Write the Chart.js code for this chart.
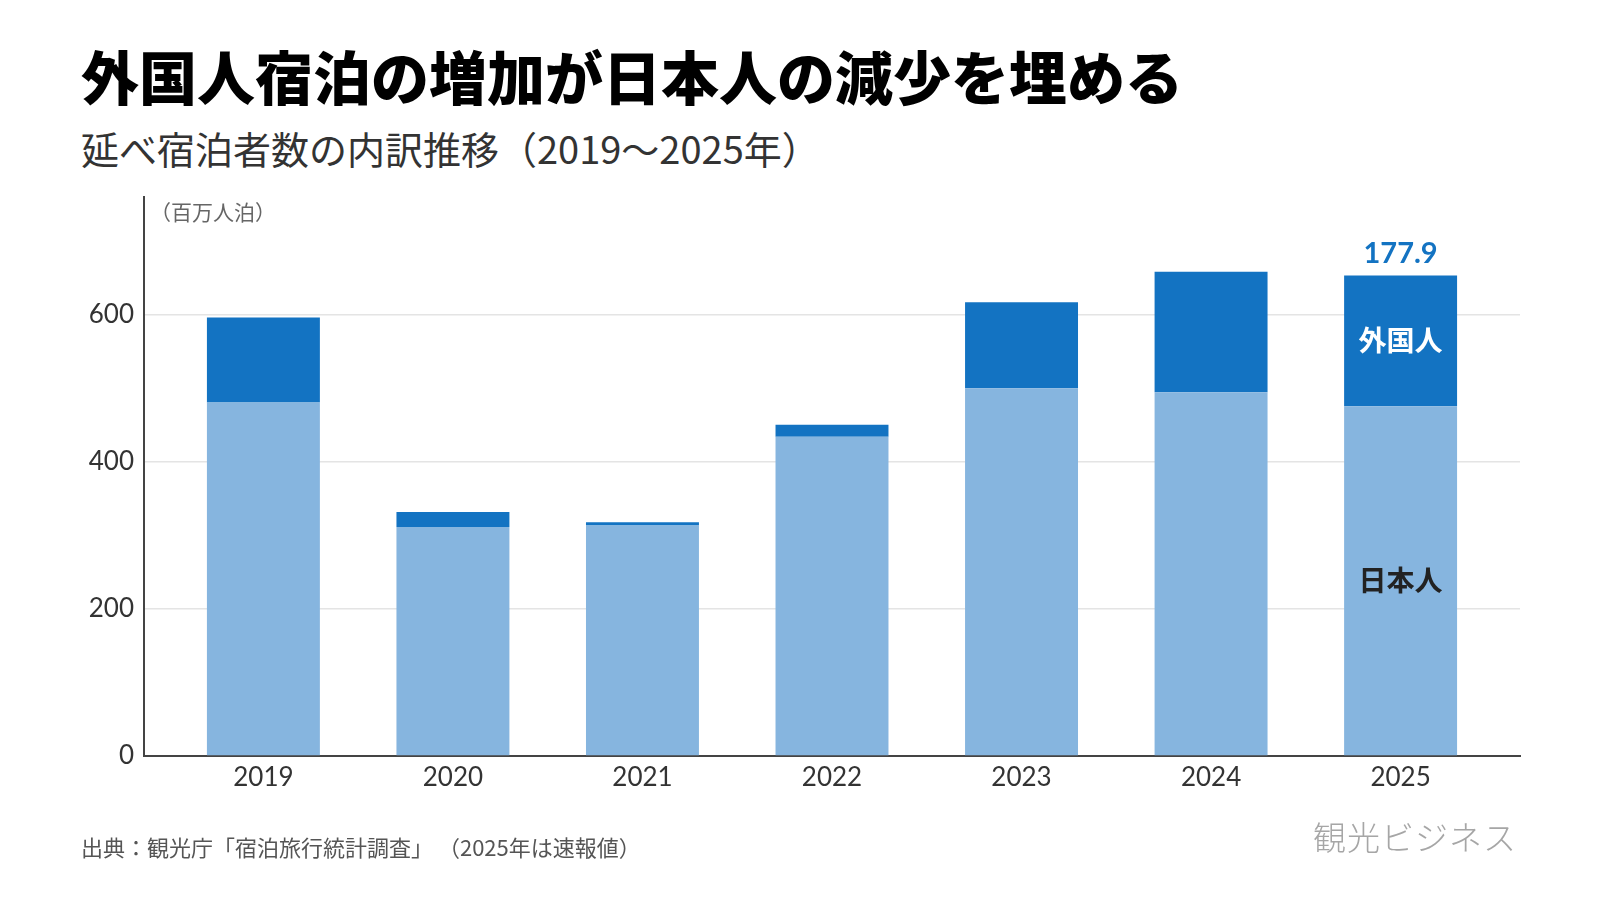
<!DOCTYPE html>
<html>
<head>
<meta charset="utf-8">
<script src="https://cdn.jsdelivr.net/npm/chart.js@4.4.1/dist/chart.umd.min.js"></script>
<style>
body { margin: 0; background: #fff; width: 1600px; height: 900px; overflow: hidden; position: relative; font-family: "Noto Sans CJK JP", sans-serif; }
.txt { position: absolute; white-space: nowrap; line-height: 1; }
#title { left: 81px; top: 46px; font-size: 58px; font-weight: 900; color: #000; }
#subtitle { left: 81px; top: 129px; font-size: 38px; font-weight: 400; color: #333; }
#source { left: 81px; top: 835px; font-size: 22px; color: #555; }
#logo { right: 83px; top: 820px; font-size: 33px; font-weight: 300; color: #a6a6a6; letter-spacing: 1px; }
#chart { position: absolute; left: 0; top: 0; }
</style>
</head>
<body>
<div class="txt" id="title">外国人宿泊の増加が日本人の減少を埋める</div>
<div class="txt" id="subtitle">延べ宿泊者数の内訳推移（2019～2025年）</div>
<canvas id="chart" width="1600" height="900"></canvas>
<div class="txt" id="source">出典：観光庁「宿泊旅行統計調査」 （2025年は速報値）</div>
<div class="txt" id="logo">観光ビジネス</div>

<script>
// 百万人泊
const years = ["2019", "2020", "2021", "2022", "2023", "2024", "2025"];
const japanese = [480.5, 311.5, 313.5, 434.0, 500.0, 494.5, 475.5];
const foreign = [115.7, 20.3, 4.3, 16.5, 117.0, 164.0, 177.9];
const yTicks = [0, 200, 400, 600];

const darkBlue = "#1373c2";
const lightBlue = "#86b5df";

const barLabels = {
    id: "barLabels",
    afterDatasetsDraw(chart) {
        let ctx = chart.ctx;
        let last = years.length - 1;
        let jBar = chart.getDatasetMeta(0).data[last];
        let fBar = chart.getDatasetMeta(1).data[last];
        let area = chart.chartArea;

        ctx.save();
        ctx.textAlign = "center";
        ctx.textBaseline = "middle";

        ctx.font = 'bold 28px "Noto Sans CJK JP"';
        ctx.fillStyle = "#fff";
        ctx.fillText("外国人", fBar.x, (fBar.y + fBar.base) / 2);
        ctx.fillStyle = "#222";
        ctx.fillText("日本人", jBar.x, (jBar.y + jBar.base) / 2);

        ctx.font = 'bold 29px Lato';
        ctx.fillStyle = darkBlue;
        ctx.fillText(foreign[last].toFixed(1), fBar.x, fBar.y - 22);

        ctx.textAlign = "left";
        ctx.font = '21px "Noto Sans CJK JP"';
        ctx.fillStyle = "#666";
        ctx.fillText("（百万人泊）", area.left + 6, area.top + 15);
        ctx.restore();
    }
};

new Chart(document.getElementById("chart"), {
    type: "bar",
    data: {
        datasets: [
            {
                label: "日本人",
                data: japanese.map((v, i) => ({x: i, y: v})),
                backgroundColor: lightBlue,
                stack: "total"
            },
            {
                label: "外国人",
                data: foreign.map((v, i) => ({x: i, y: v})),
                backgroundColor: darkBlue,
                stack: "total"
            }
        ]
    },
    options: {
        responsive: false,
        animation: false,
        categoryPercentage: 1,
        barPercentage: 0.596,
        layout: { padding: { left: 0, right: 80, top: 197, bottom: 84 } },
        plugins: {
            legend: { display: false },
            tooltip: { enabled: false }
        },
        scales: {
            x: {
                type: "linear",
                offset: false,
                min: -0.63,
                max: years.length - 1 + 0.63,
                afterBuildTicks: s => { s.ticks = years.map((y, i) => ({value: i})); },
                afterFit: s => { s.height = 60; },
                grid: { display: false },
                border: { display: true, color: "#444", width: 2 },
                ticks: {
                    callback: v => years[v],
                    color: "#333",
                    padding: -2,
                    maxRotation: 0,
                    autoSkip: false,
                    font: { family: "Lato", size: 26 }
                }
            },
            y: {
                stacked: true,
                min: 0,
                max: 760,
                afterBuildTicks: s => { s.ticks = yTicks.map(v => ({value: v})); },
                afterFit: s => { s.width = 144; },
                grid: { color: "#e4e4e4", lineWidth: 1.5, drawTicks: false },
                border: { display: true, color: "#444", width: 2 },
                ticks: {
                    color: "#333",
                    padding: 10,
                    font: { family: "Lato", size: 26 }
                }
            }
        }
    },
    plugins: [barLabels]
});
</script>
</body>
</html>
